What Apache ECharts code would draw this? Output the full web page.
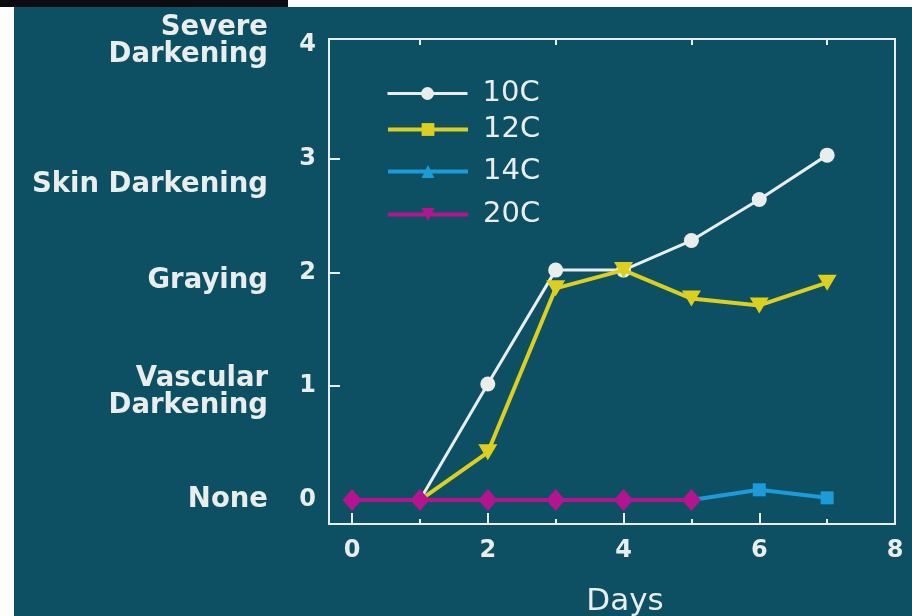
<!DOCTYPE html>
<html>
<head>
<meta charset="utf-8">
<script src="https://cdn.jsdelivr.net/npm/echarts@6/dist/echarts.min.js"></script>
<style>
html,body{margin:0;padding:0;background:#ffffff;}
#chart{width:912px;height:616px;}
</style>
</head>
<body>
<div id="chart"></div>
<script>
// ---- data ----
const days = [0, 1, 2, 3, 4, 5, 6, 7];
const days20 = [0, 1, 2, 3, 4, 5];
const s10C = [0, 0, 1.02, 2.02, 2.02, 2.28, 2.64, 3.03];
const s12C = [0, 0, 0.42, 1.86, 2.02, 1.77, 1.71, 1.91];
const s14C = [0, 0, 0, 0, 0, 0, 0.09, 0.02];
const s20C = [0, 0, 0, 0, 0, 0];
const seriesNames = ['10C', '12C', '14C', '20C'];
const xTickLabels = [0, 2, 4, 6, 8];
const yTickLabels = [0, 1, 2, 3, 4];
const levelNames = ['None', 'Vascular\nDarkening', 'Graying', 'Skin Darkening', 'Severe\nDarkening'];

// ---- layout / style constants ----
const levelLabelPos = [0, 0.95, 1.93, 2.77, 4.03];
const FONT = 'DejaVu Sans, Liberation Sans, Arial, sans-serif';
const WHITE = '#e9eeec';
const BG = '#0d5064';
const downTri = 'path://M0,0L20,0L10,17Z';

// markers hidden under the 20C diamonds in the picture are not drawn
function items(xs, ys, sym, size, hiddenBelowX) {
  return xs.map((x, i) => ({
    value: [x, ys[i]],
    symbol: x < hiddenBelowX ? 'none' : sym,
    symbolSize: size
  }));
}

const chart = echarts.init(document.getElementById('chart'), null, { renderer: 'canvas' });

const legendRowsTop = [74, 110, 152, 195];
const legendLineW = [3, 4, 4, 4];
const legends = seriesNames.map((n, i) => ({
  data: [n],
  left: 381,
  top: legendRowsTop[i],
  orient: 'vertical',
  itemWidth: 80,
  itemHeight: 16,
  selectedMode: false,
  lineStyle: { width: legendLineW[i] },
  textStyle: { color: WHITE, fontSize: 29, fontFamily: FONT, padding: [0, 0, 0, 10] }
}));

const tickStyle = { color: WHITE, width: 2 };
const noLine = { show: false, onZero: false };

const option = {
  backgroundColor: '#ffffff',
  animation: false,
  graphic: [
    { type: 'rect', left: 14, top: 7, shape: { width: 898, height: 609 }, style: { fill: BG }, z: -10, silent: true },
    { type: 'rect', left: 0, top: 0, shape: { width: 288, height: 7 }, style: { fill: '#0b0b10' }, z: -10, silent: true }
  ],
  legend: legends,
  grid: {
    left: 329, right: 17, top: 39, bottom: 92,
    containLabel: false, outerBoundsMode: 'none',
    show: true, borderColor: WHITE, borderWidth: 2, backgroundColor: 'transparent'
  },
  xAxis: [
    {
      type: 'value', min: -0.34, max: 8, position: 'bottom',
      axisLine: noLine,
      splitLine: { show: false },
      axisTick: { show: true, inside: true, length: 11, customValues: [0, 2, 4, 6], lineStyle: tickStyle },
      axisLabel: { customValues: xTickLabels, color: WHITE, fontSize: 24, fontWeight: 'bold', fontFamily: FONT, margin: 15 },
      name: 'Days', nameLocation: 'middle', nameGap: 62,
      nameTextStyle: { color: WHITE, fontSize: 31, fontFamily: FONT, padding: [0, 0, 0, 26] }
    },
    {
      type: 'value', min: -0.34, max: 8, position: 'bottom', offset: 0,
      axisLine: noLine, splitLine: { show: false },
      axisTick: { show: true, inside: true, length: 5, customValues: [1, 3, 5, 7], lineStyle: tickStyle },
      axisLabel: { show: false }
    },
    {
      type: 'value', min: -0.34, max: 8, position: 'top', offset: 0,
      axisLine: noLine, splitLine: { show: false },
      axisTick: { show: true, inside: true, length: 6, customValues: [1, 3, 5, 7], lineStyle: tickStyle },
      axisLabel: { show: false }
    }
  ],
  yAxis: [
    {
      type: 'value', min: -0.21, max: 4.05, position: 'left',
      axisLine: noLine, splitLine: { show: false },
      axisTick: { show: true, inside: true, length: 11, customValues: [1, 2, 3], lineStyle: tickStyle },
      axisLabel: { customValues: yTickLabels, color: WHITE, fontSize: 24, fontWeight: 'bold', fontFamily: FONT, margin: 13 }
    },
    {
      type: 'value', min: -0.21, max: 4.05, position: 'left', offset: 0,
      axisLine: noLine, splitLine: { show: false }, axisTick: { show: false },
      axisLabel: {
        customValues: levelLabelPos,
        formatter: function (v) {
          let idx = 0, best = 1e9;
          levelLabelPos.forEach((p, i) => { if (Math.abs(p - v) < best) { best = Math.abs(p - v); idx = i; } });
          return levelNames[idx];
        },
        color: WHITE, fontSize: 27.5, fontWeight: 'bold', fontFamily: FONT, margin: 61, lineHeight: 27, align: 'right'
      }
    }
  ],
  series: [
    {
      name: '10C', type: 'line', xAxisIndex: 0, yAxisIndex: 0,
      symbol: 'circle', symbolSize: 15,
      color: WHITE,
      lineStyle: { color: WHITE, width: 3 },
      itemStyle: { color: WHITE },
      data: items(days, s10C, 'circle', 15, 2), z: 2
    },
    {
      name: '12C', type: 'line', xAxisIndex: 0, yAxisIndex: 0,
      symbol: 'rect', symbolSize: 13,
      color: '#dccf1f',
      lineStyle: { color: '#dccf1f', width: 4 },
      itemStyle: { color: '#dccf1f' },
      data: items(days, s12C, downTri, [19, 16], 2), z: 3
    },
    {
      name: '14C', type: 'line', xAxisIndex: 0, yAxisIndex: 0,
      symbol: 'triangle', symbolSize: 13,
      color: '#1d9bd8',
      lineStyle: { color: '#1d9bd8', width: 4 },
      itemStyle: { color: '#1d9bd8' },
      data: items(days, s14C, 'rect', 13, 6), z: 4
    },
    {
      name: '20C', type: 'line', xAxisIndex: 0, yAxisIndex: 0,
      symbol: downTri, symbolSize: 14,
      color: '#b4148f',
      lineStyle: { color: '#b4148f', width: 4 },
      itemStyle: { color: '#b4148f' },
      data: items(days20, s20C, 'diamond', [19, 22], -1), z: 5
    }
  ]
};

chart.setOption(option);
</script>
</body>
</html>
